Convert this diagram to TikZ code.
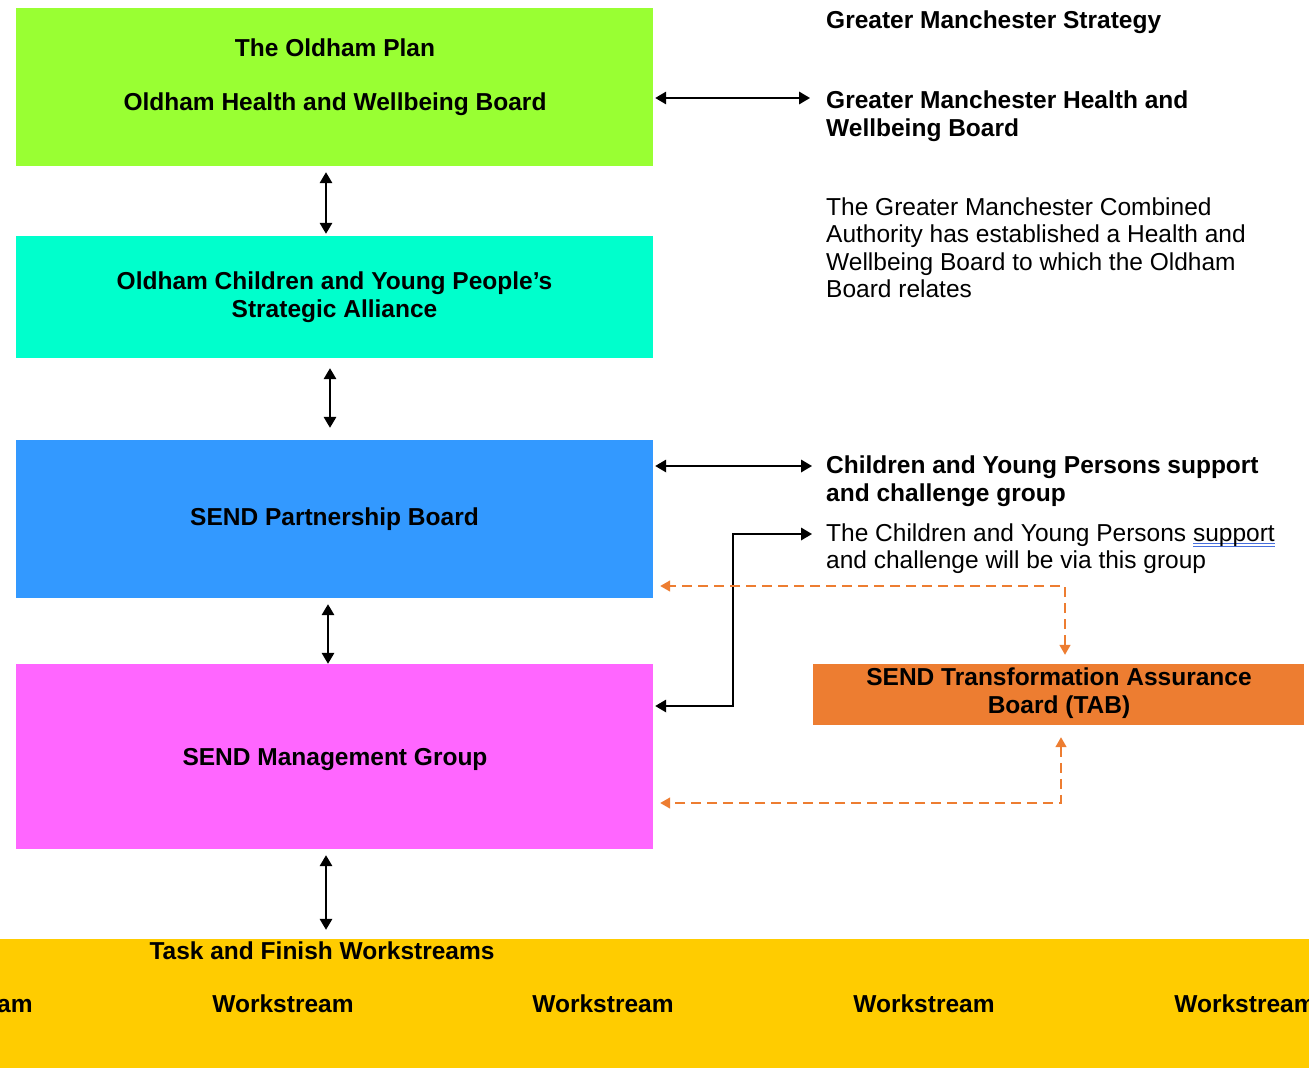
\documentclass[tikz,border=0pt]{standalone}
\usepackage{fontspec}
\setmainfont{Liberation Sans}
\usetikzlibrary{arrows.meta}

\definecolor{plangreen}{RGB}{153,255,51}
\definecolor{allianceteal}{RGB}{0,255,204}
\definecolor{sendblue}{RGB}{51,153,255}
\definecolor{mgpink}{RGB}{255,102,255}
\definecolor{taborange}{RGB}{237,125,49}
\definecolor{taskyellow}{RGB}{255,204,0}
\definecolor{spellblue}{RGB}{70,110,220}

% double blue underline under a flagged word
\newcommand\spellflag[1]{\setbox0\hbox{#1}%
  \rlap{\textcolor{spellblue}{\rule[-2.5pt]{\wd0}{0.9pt}}}%
  \rlap{\textcolor{spellblue}{\rule[-5.5pt]{\wd0}{0.9pt}}}\box0}

\begin{document}
\begin{tikzpicture}[x=1pt,y=-1pt,
  box/.style={rectangle, inner sep=0pt, minimum width=637pt, align=center,
    font=\fontsize{24.5}{27.5}\selectfont\bfseries},
  boxlabel/.style={inner sep=0pt, align=center, font=\fontsize{24.5}{27.5}\selectfont\bfseries},
  note/.style={inner sep=0pt, anchor=west, align=left, font=\fontsize{24.5}{27.5}\selectfont},
  heading/.style={note, font=\fontsize{24.5}{27.5}\selectfont\bfseries},
  link/.style={line width=1.8pt, black,
    {Triangle[length=11pt,width=12.5pt]}-{Triangle[length=11pt,width=12.5pt]}},
  feed/.style={line width=1.5pt, taborange, dash pattern=on 10pt off 6pt,
    {Triangle[length=10pt,width=11pt]}-{Triangle[length=10pt,width=11pt]}}
]
\useasboundingbox (0,0) rectangle (1309,1068);
\clip (0,0) rectangle (1309,1068);

% left column of boards
\node[box, fill=plangreen, minimum height=158pt] (plan) at (334.5,87) {};
\node[boxlabel] (plantext) at (335,77) {The Oldham Plan\\[27pt]Oldham Health and Wellbeing Board};
\node[box, fill=allianceteal, minimum height=122pt] (alliance) at (334.5,297)
  {Oldham Children and Young People’s\\Strategic Alliance};
\node[box, fill=sendblue, minimum height=158pt] (send) at (334.5,519) {SEND Partnership Board};
\node[box, fill=mgpink, minimum height=185pt] (mg) at (334.5,756.5) {};
\node[boxlabel] (mgtext) at (335,759.5) {SEND Management Group};

% workstream band
\node[rectangle, inner sep=0pt, fill=taskyellow, minimum width=1320pt, minimum height=131pt] (tasks) at (654.5,1004.5) {};
\node[boxlabel] (tasktitle) at (322,951) {Task and Finish Workstreams};
\foreach \x/\n in {-38/ws0, 283/ws1, 603/ws2, 924/ws3, 1245/ws4}
  \node[boxlabel] (\n) at (\x,1004) {Workstream};

% right column
\node[heading] (gms) at (826,22) {Greater Manchester Strategy};
\node[heading] (gmhwb) at (826,116) {Greater Manchester Health and\\Wellbeing Board};
\node[note] (gmca) at (826,247.5) {The Greater Manchester Combined\\Authority has established a Health and\\Wellbeing Board to which the Oldham\\Board relates};
\node[heading] (cyp) at (826,481) {Children and Young Persons support\\and challenge group};
\node[note] (via) at (826,548.5) {The Children and Young Persons \spellflag{support}\\and challenge will be via this group};
\node[rectangle, inner sep=0pt, fill=taborange, minimum width=491pt, minimum height=61pt] (tab) at (1058.5,694.5) {};
\node[boxlabel] (tabtext) at (1059,693) {SEND Transformation Assurance\\Board (TAB)};

% vertical links between boards
\draw[link] ([shift={(-8.5pt,-6pt)}]plan.south) -- ([shift={(-8.5pt,2pt)}]alliance.north);
\draw[link] ([shift={(-4.5pt,-10pt)}]alliance.south) -- ([shift={(-4.5pt,12pt)}]send.north);
\draw[link] ([shift={(-6.5pt,-6pt)}]send.south) -- ([shift={(-6.5pt,0pt)}]mg.north);
\draw[link] ([shift={(-8.5pt,-6pt)}]mg.south) -- ([shift={(-8.5pt,9pt)}]tasks.north -| mg.south);

% links to the right-hand groups
\coordinate (gmtip) at (810,98);
\draw[link] ([xshift=2pt]gmtip -| plan.east) -- (gmtip);
\coordinate (cyptip) at (812,466);
\draw[link] ([xshift=2pt]cyptip -| send.east) -- (cyptip);
\draw[link] ([shift={(-14pt,14.5pt)}]via.west) -- ++(-79pt,0pt) |- ([shift={(2pt,50.5pt)}]mg.east);

% assurance board feedback routes
\draw[feed] ([shift={(6.5pt,9pt)}]tab.north) |- ([shift={(7pt,-67pt)}]send.east);
\draw[feed] ([shift={(2.5pt,-12pt)}]tab.south) |- ([shift={(7pt,-46.5pt)}]mg.east);
\end{tikzpicture}
\end{document}
